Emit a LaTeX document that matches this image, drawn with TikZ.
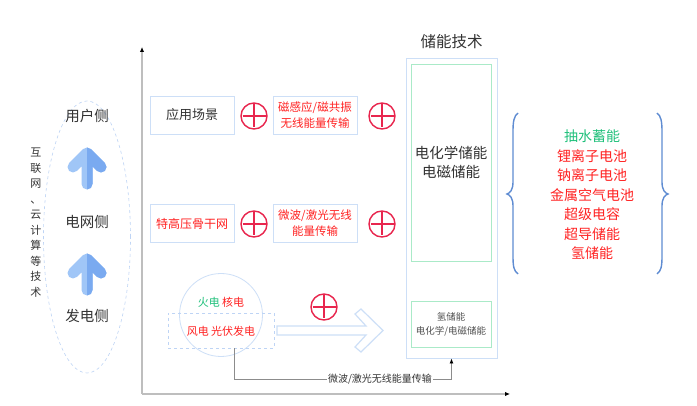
\documentclass[tikz,border=0pt]{standalone}
\usepackage{fontspec}
\setmainfont{Noto Sans CJK SC}
\usetikzlibrary{arrows.meta,shapes.geometric}
\definecolor{lblue}{RGB}{205,223,247}
\definecolor{dashblue}{RGB}{190,212,245}
\definecolor{gbox}{RGB}{170,234,200}
\definecolor{txtgreen}{RGB}{30,192,122}
\definecolor{txtred}{RGB}{255,34,34}
\definecolor{plusred}{RGB}{232,38,78}
\definecolor{darktxt}{RGB}{51,51,51}
\definecolor{axisgray}{RGB}{190,190,190}
\definecolor{arrowA}{RGB}{160,198,247}
\definecolor{arrowB}{RGB}{122,170,240}
\definecolor{bracec}{RGB}{95,140,210}
\tikzset{
  lbox/.style={draw=lblue,line width=0.9pt,minimum width=84pt,minimum height=38pt,align=center,inner sep=1pt},
  pluscirc/.style={circle,draw=plusred,line width=1.4pt,minimum size=26pt,inner sep=0pt,
    path picture={\draw[plusred,line width=1.3pt,shorten >=1.5pt,shorten <=1.5pt] (path picture bounding box.north) -- (path picture bounding box.south); \draw[plusred,line width=1.3pt,shorten >=1.5pt,shorten <=1.5pt] (path picture bounding box.west) -- (path picture bounding box.east);}},
  axisline/.style={draw=axisgray,line width=1.3pt,-{Latex[length=5pt,width=4.5pt,color=black]}},
  conn/.style={draw=gray!90,line width=0.8pt},
  bigarrow/.style={line width=11pt,line cap=round,line join=round},
  redt/.style={text=txtred},
}
\begin{document}
\begin{tikzpicture}[x=1pt,y=-1pt]
\useasboundingbox (0,0) rectangle (697,406);
\fill[white] (0,0) rectangle (697,406);

% left ellipse
\node[ellipse,draw=dashblue,dashed,line width=0.6pt,minimum width=87pt,minimum height=272pt] (ell) at (87,237) {};
\node[text=darktxt,font=\fontsize{11}{15.5}\selectfont,align=center,inner sep=0pt] (vt) at (36,222.5) {互\\联\\网\\、\\云\\计\\算\\等\\技\\术};
\node[text=darktxt,font=\fontsize{14.5}{17}\selectfont] (user) at (87,116) {用户侧};
\node[text=darktxt,font=\fontsize{14.5}{17}\selectfont] (grid) at (87,222) {电网侧};
\node[text=darktxt,font=\fontsize{14.5}{17}\selectfont] (gen) at (87,316) {发电侧};

% blue up arrows
\foreach \yt/\nm in {153/a1,259/a2}{
  \coordinate (\nm) at (87,\yt);
  \draw[bigarrow,arrowA] (87,\yt+31) -- (87,\yt) (73,\yt+14) -- (87,\yt) -- (101,\yt+14);
  \begin{scope}
    \clip (87,\yt-10) rectangle (110,\yt+45);
    \draw[bigarrow,arrowB] (87,\yt+31) -- (87,\yt) (73,\yt+14) -- (87,\yt) -- (101,\yt+14);
  \end{scope}
}

% axes
\coordinate (origin) at (142,394);
\draw[axisline] (origin) -- (142,47);
\draw[axisline] (origin) -- (510,394);

% row 1
\node[lbox,text=darktxt,font=\fontsize{13}{15}\selectfont] (app) at (192,115) {应用场景};
\node[pluscirc] (p1) at (254,116) {};
\node[lbox,redt,font=\fontsize{11.5}{16}\selectfont] (mag) at (315,115) {磁感应/磁共振\\无线能量传输};
\node[pluscirc] (p2) at (382,116) {};

% row 2
\node[lbox,redt,font=\fontsize{12}{15}\selectfont] (uhv) at (192,223.5) {特高压骨干网};
\node[pluscirc] (p3) at (254,224) {};
\node[lbox,redt,font=\fontsize{11.5}{16}\selectfont] (mw) at (315,223.5) {微波/激光无线\\能量传输};
\node[pluscirc] (p4) at (382,224) {};

% generation
\node[circle,draw=lblue,line width=0.8pt,minimum size=83pt] (gc) at (221,315) {};
\node[font=\fontsize{11}{13}\selectfont] (fire) at (221,302) {\textcolor{txtgreen}{火电} \textcolor{txtred}{核电}};
\node[draw=dashblue,dashed,line width=0.8pt,minimum width=106pt,minimum height=35pt] (dr) at (221,330.5) {};
\node[redt,font=\fontsize{11}{13}\selectfont] (wind) at (221,331) {风电 光伏发电};
\node[pluscirc] (p5) at (324,307) {};
\draw[draw=lblue,line width=1.2pt,line join=miter] (277,326) -- (366,326) -- (355,314) -- (361,309) -- (383,330.5) -- (361,352) -- (355,347) -- (366,335) -- (277,335) -- cycle;
\coordinate (hollowtip) at (383,330.5);

% storage
\node[font=\fontsize{15.5}{18}\selectfont,text=darktxt] (title) at (451.5,42) {储能技术};
\node[draw=lblue,line width=0.9pt,minimum width=91pt,minimum height=300pt] (so) at (451.5,208) {};
\node[draw=gbox,line width=0.9pt,minimum width=80pt,minimum height=197pt,align=center,text=darktxt,font=\fontsize{14.5}{18.5}\selectfont] (sg) at (451,162.5) {电化学储能\\电磁储能};
\node[draw=gbox,line width=0.9pt,minimum width=80pt,minimum height=46pt,align=center,text=darktxt!85,font=\fontsize{9.5}{14}\selectfont] (sh) at (451,324) {氢储能\\电化学/电磁储能};

% bottom connector
\draw[conn,-{Latex[length=5pt,width=4pt,color=black]}] ([xshift=13pt]dr.south) -- ++(0,31) -| (so.south);
\node[fill=white,inner sep=1pt,text=darktxt,font=\fontsize{10}{12}\selectfont] (lbl) at (380,379) {微波/激光无线能量传输};

% braces
\draw[bracec,line width=1.4pt] (518,113) .. controls (514,116) and (513,121) .. (513,132) -- (513,182) .. controls (513,190) and (510,193) .. (507,194) .. controls (510,195) and (513,198) .. (513,206) -- (513,256) .. controls (513,267) and (514,271) .. (518,274);
\draw[bracec,line width=1.4pt] (657,113) .. controls (661,116) and (662,121) .. (662,132) -- (662,182) .. controls (662,190) and (665,193) .. (668,194) .. controls (665,195) and (662,198) .. (662,206) -- (662,256) .. controls (662,267) and (661,271) .. (657,274);

% list
\node[align=center,font=\fontsize{14}{19.5}\selectfont,inner sep=0pt] (list) at (592,195) {\textcolor{txtgreen}{抽水蓄能}\\\textcolor{txtred}{锂离子电池}\\\textcolor{txtred}{钠离子电池}\\\textcolor{txtred}{金属空气电池}\\\textcolor{txtred}{超级电容}\\\textcolor{txtred}{超导储能}\\\textcolor{txtred}{氢储能}};
\end{tikzpicture}
\end{document}
